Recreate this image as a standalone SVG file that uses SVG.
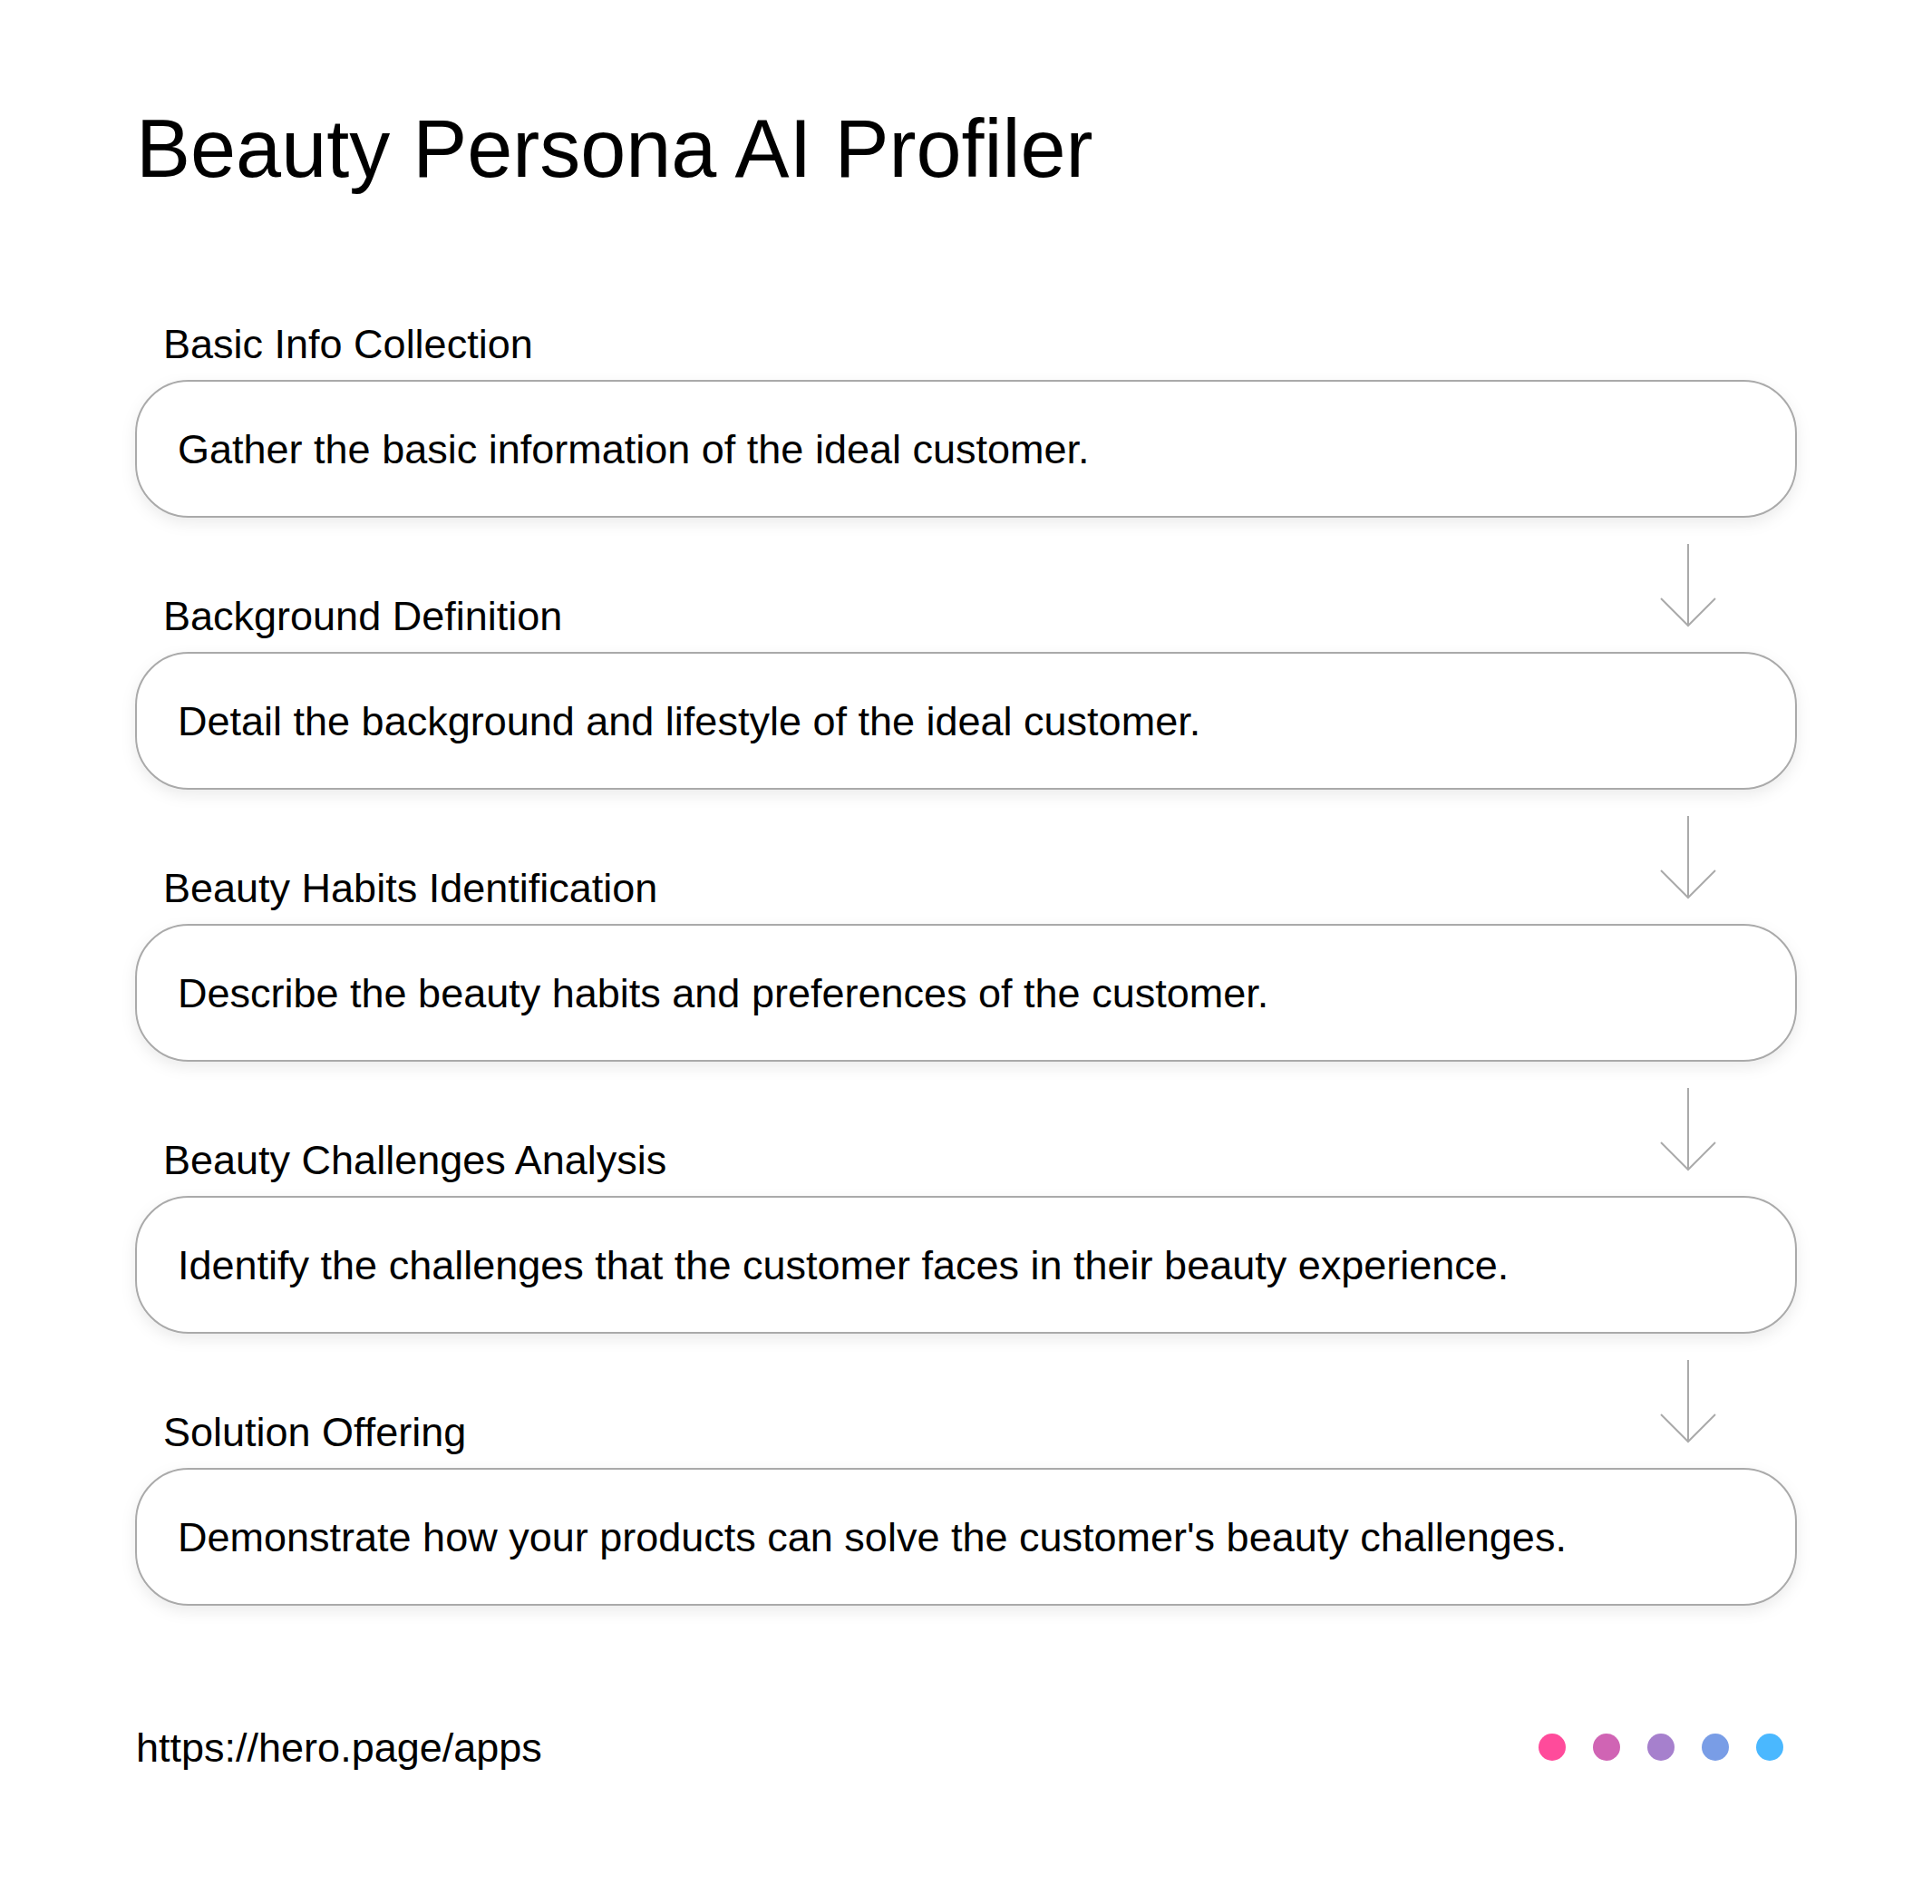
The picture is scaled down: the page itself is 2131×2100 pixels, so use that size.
<svg xmlns="http://www.w3.org/2000/svg" width="2131" height="2100" viewBox="0 0 2131 2100">
<defs>
<style>
text{font-family:"Liberation Sans",Arial,sans-serif;fill:#000}
.title{font-size:90px}
.label{font-size:45px}
.body{font-size:45px}
.box{fill:#fff;stroke:#aaa;stroke-width:2;filter:url(#sh)}
.conn{fill:none;stroke:#aaa;stroke-width:2}
</style>
<filter id="sh" x="-5%" y="-30%" width="110%" height="170%">
<feDropShadow dx="0" dy="6" stdDeviation="8" flood-color="#000" flood-opacity="0.08"/>
</filter>
</defs>
<rect width="2131" height="2100" fill="#fff"/>
<text class="title" x="150" y="195">Beauty Persona AI Profiler</text>
<g id="n1">
<text class="label" x="180" y="395">Basic Info Collection</text>
<rect class="box" x="150" y="420" width="1831" height="150" rx="58"/>
<text class="body" x="196" y="511">Gather the basic information of the ideal customer.</text>
</g>
<g id="n2">
<text class="label" x="180" y="695">Background Definition</text>
<rect class="box" x="150" y="720" width="1831" height="150" rx="58"/>
<text class="body" x="196" y="811">Detail the background and lifestyle of the ideal customer.</text>
</g>
<g id="n3">
<text class="label" x="180" y="995">Beauty Habits Identification</text>
<rect class="box" x="150" y="1020" width="1831" height="150" rx="58"/>
<text class="body" x="196" y="1111">Describe the beauty habits and preferences of the customer.</text>
</g>
<g id="n4">
<text class="label" x="180" y="1295">Beauty Challenges Analysis</text>
<rect class="box" x="150" y="1320" width="1831" height="150" rx="58"/>
<text class="body" x="196" y="1411">Identify the challenges that the customer faces in their beauty experience.</text>
</g>
<g id="n5">
<text class="label" x="180" y="1595">Solution Offering</text>
<rect class="box" x="150" y="1620" width="1831" height="150" rx="58"/>
<text class="body" x="196" y="1711">Demonstrate how your products can solve the customer's beauty challenges.</text>
</g>
<g id="connectors">
<path class="conn" d="M1862 600V690M1832 660L1862 690L1892 660"/>
<path class="conn" d="M1862 900V990M1832 960L1862 990L1892 960"/>
<path class="conn" d="M1862 1200V1290M1832 1260L1862 1290L1892 1260"/>
<path class="conn" d="M1862 1500V1590M1832 1560L1862 1590L1892 1560"/>
</g>
<g id="footer">
<text class="label" x="150" y="1943">https://hero.page/apps</text>
<circle cx="1712" cy="1927" r="15" fill="#FF4B9B"/>
<circle cx="1772" cy="1927" r="15" fill="#D064B4"/>
<circle cx="1832" cy="1927" r="15" fill="#A680CD"/>
<circle cx="1892" cy="1927" r="15" fill="#799DE6"/>
<circle cx="1952" cy="1927" r="15" fill="#4AB8FF"/>
</g>
</svg>
